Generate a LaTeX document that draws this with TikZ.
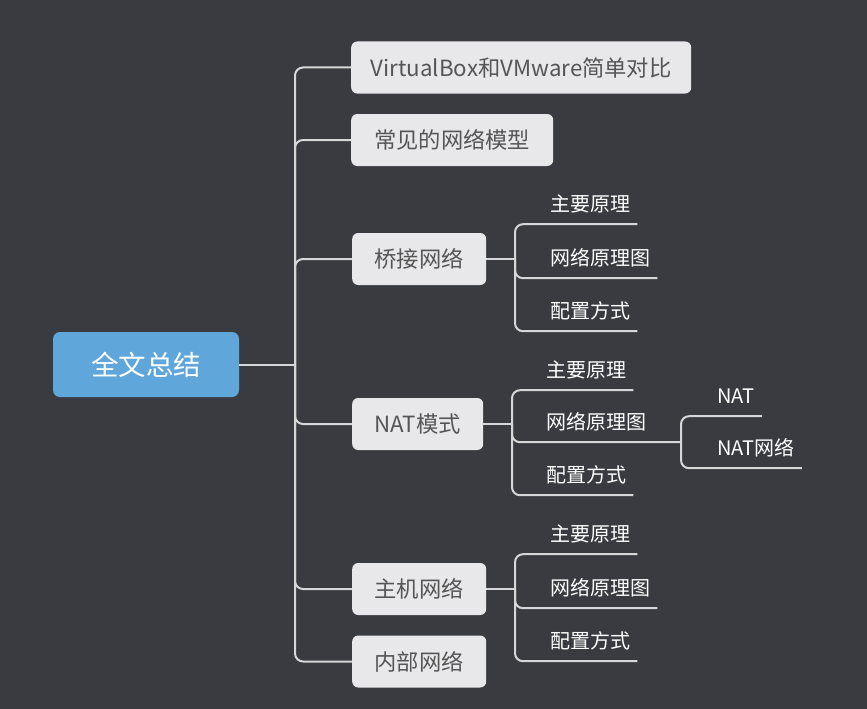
\documentclass[tikz,border=0pt]{standalone}
\usepackage{fontspec}
\setmainfont{Noto Sans CJK SC}
\definecolor{bgc}{RGB}{58,59,64}
\definecolor{linec}{RGB}{215,215,218}
\definecolor{boxc}{RGB}{232,232,234}
\definecolor{boxtext}{RGB}{85,85,85}
\definecolor{rootc}{RGB}{95,167,218}
\begin{document}
\begin{tikzpicture}[x=1pt,y=-1pt,
  conn/.style={draw=linec, line width=2pt, rounded corners=8pt},
  rootbox/.style={fill=rootc, text=white, rounded corners=7pt, minimum width=186pt, minimum height=65pt, font=\fontsize{27.5}{31}\selectfont},
  topic/.style={fill=boxc, text=boxtext, rounded corners=6pt, minimum height=52pt, inner xsep=0pt, anchor=west, font=\fontsize{22.3}{26}\selectfont},
  leaf/.style={text=white, minimum height=40pt, inner xsep=7pt, inner ysep=0pt, anchor=west, font=\fontsize{20}{24}\selectfont}]
\fill[bgc] (0,0) rectangle (867,709);
\useasboundingbox (0,0) rectangle (867,709);

\node[rootbox] (root) at (146,364.5) {全文总结};
\coordinate (tr) at (295,364.5);

\node[topic, minimum width=340pt] (vb) at (351,67.5) {VirtualBox和VMware简单对比};
\node[topic, minimum width=202pt] (cj) at (351,140) {常见的网络模型};
\node[topic, minimum width=134pt] (qj) at (352,259) {桥接网络};
\node[topic, minimum width=131pt] (nat) at (352,424) {NAT模式};
\node[topic, minimum width=134pt] (zj) at (352,589) {主机网络};
\node[topic, minimum width=134pt] (nb) at (352,661.5) {内部网络};

\draw[conn] (root.east) -- (tr);
\foreach \n in {vb,cj,qj,nat,zj,nb} { \draw[conn] (tr) |- (\n.west); }

% bridge
\coordinate (jq) at (515,259);
\node[leaf] (q1) at (543,204) {主要原理};
\node[leaf] (q2) at (543,258) {网络原理图};
\node[leaf] (q3) at (543,311) {配置方式};
\draw[conn] (qj.east) -- (jq);
\foreach \n in {q1,q2,q3} { \draw[conn] (jq) |- (\n.south east); }

% NAT
\coordinate (jn) at (512,424);
\node[leaf] (n1) at (539,370) {主要原理};
\node[leaf] (n2) at (539,422) {网络原理图};
\node[leaf] (n3) at (539,475) {配置方式};
\coordinate (jn2) at (681,442);
\draw[conn] (nat.east) -- (jn);
\draw[conn] (jn) |- (n1.south east);
\draw[conn] (jn) |- (n2.south east) -- (jn2);
\draw[conn] (jn) |- (n3.south east);
\node[leaf] (m1) at (710,396) {NAT};
\node[leaf] (m2) at (710,448) {NAT网络};
\draw[conn] (jn2) |- (m1.south east);
\draw[conn] (jn2) |- (m2.south east);

% host
\coordinate (jz) at (515,589);
\node[leaf] (z1) at (543,534) {主要原理};
\node[leaf] (z2) at (543,588) {网络原理图};
\node[leaf] (z3) at (543,641) {配置方式};
\draw[conn] (zj.east) -- (jz);
\foreach \n in {z1,z2,z3} { \draw[conn] (jz) |- (\n.south east); }
\end{tikzpicture}
\end{document}
